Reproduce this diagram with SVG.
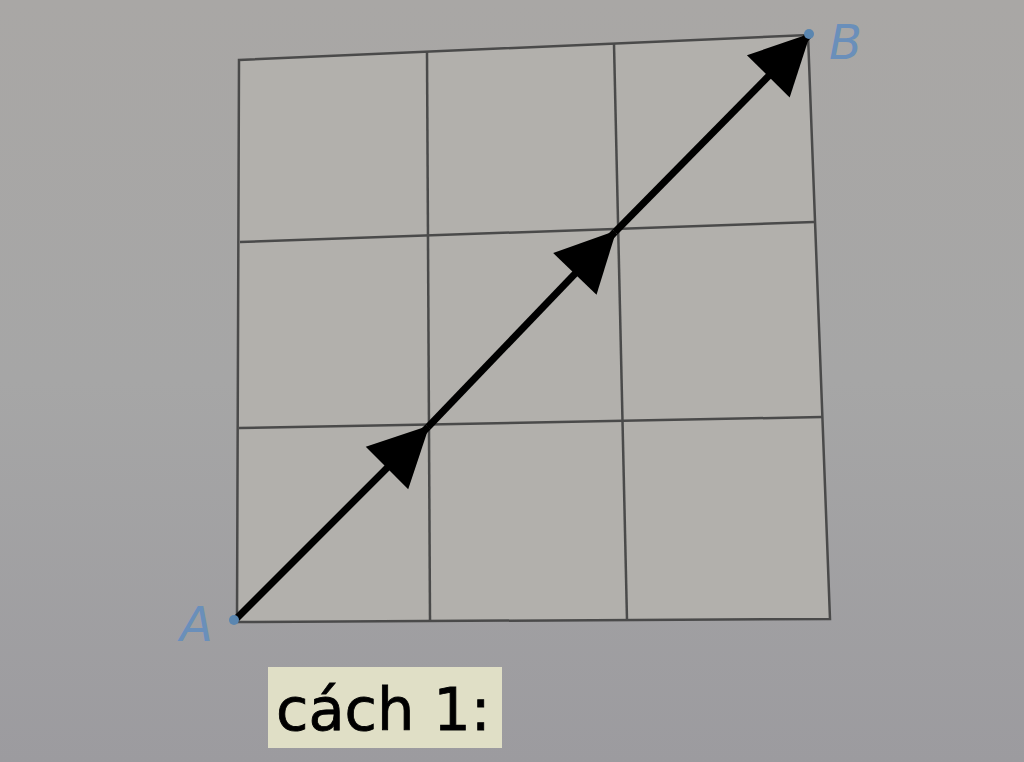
<svg xmlns="http://www.w3.org/2000/svg" width="1024" height="762" viewBox="0 0 1024 762">
<defs>
<linearGradient id="bg" x1="0" y1="0" x2="0" y2="1">
<stop offset="0" stop-color="#a9a7a5"/>
<stop offset="0.5" stop-color="#a6a6a6"/>
<stop offset="1" stop-color="#9c9b9f"/>
</linearGradient>
<marker id="head" markerUnits="userSpaceOnUse" markerWidth="70" markerHeight="70" viewBox="-64 -34 70 68" refX="0" refY="0" orient="auto">
<path d="M2,0 L-58,-30 L-58,30 Z" fill="#000"/>
</marker>
<style>
.grid{fill:none;stroke:#4a4a4a;stroke-width:2.5}
.arrow{fill:none;stroke:#000;stroke-width:7;marker-end:url(#head)}
.pt{font-family:"DejaVu Sans",sans-serif;font-style:italic;font-size:48px;fill:#6a8fba}
.dot{fill:#5a86b0}
</style>
</defs>
<rect width="1024" height="762" fill="url(#bg)"/>
<g id="grid">
<polygon points="239,60 808,35 830,619 237,622" fill="#b2b0ac"/>
<polygon class="grid" points="239,60 808,35 830,619 237,622"/>
<line class="grid" x1="427" y1="52" x2="430" y2="621"/>
<line class="grid" x1="614" y1="44" x2="627" y2="620"/>
<line class="grid" x1="240" y1="242" x2="814" y2="222"/>
<line class="grid" x1="239" y1="428" x2="822" y2="417"/>
</g>
<g id="connectors">
<line class="arrow" x1="235" y1="620" x2="428" y2="427"/>
<line class="arrow" x1="428" y1="427" x2="615" y2="232"/>
<line class="arrow" x1="615" y1="232" x2="809" y2="35"/>
</g>
<g id="A">
<circle class="dot" cx="234" cy="620" r="5"/>
<text class="pt" x="180" y="641">A</text>
</g>
<g id="B">
<circle class="dot" cx="809" cy="34" r="5"/>
<text class="pt" x="829" y="59">B</text>
</g>
<g id="label">
<rect x="268" y="667" width="234" height="81" fill="#e0dfc6"/>
<text x="276" y="730" font-family="DejaVu Sans, sans-serif" font-size="59" fill="#000" stroke="#000" stroke-width="0.8">cách 1:</text>
</g>
</svg>
